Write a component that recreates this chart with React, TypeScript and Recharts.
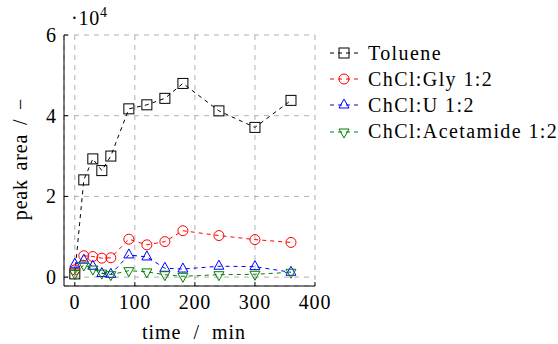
import React from 'react';
import { LineChart, Line, XAxis, YAxis, CartesianGrid, Customized } from 'recharts';

const times = [0, 15, 30, 45, 60, 90, 120, 150, 180, 240, 300, 360];
const toluene = [800, 24100, 29300, 26400, 30000, 41700, 42700, 44300, 48000, 41200, 37100, 43800];
const gly = [1800, 5300, 5100, 4700, 4800, 9400, 8000, 8800, 11500, 10300, 9300, 8600];
const urea = [3200, 4200, 2700, 900, 700, 5500, 5000, 2200, 2000, 2700, 2600, 1200];
const acetamide = [900, 3000, 2000, 1000, 600, 1600, 1300, 600, 200, 600, 700, 1200];

const xTicks = [0, 100, 200, 300, 400];
const yTicks = [0, 20000, 40000, 60000];
const xDomain = [-18, 400];
const yDomain = [-2200, 60000];

const seriesNames = ['Toluene', 'ChCl:Gly 1:2', 'ChCl:U 1:2', 'ChCl:Acetamide 1:2'];
const seriesKeys = ['toluene', 'gly', 'urea', 'acetamide'];
const seriesColors = ['#000000', '#ff0000', '#0000ff', '#008000'];
const seriesMarkers = ['square', 'circle', 'triangle', 'triangleDown'];

const data = times.map((t, i) => ({
  t,
  toluene: toluene[i],
  gly: gly[i],
  urea: urea[i],
  acetamide: acetamide[i],
}));

const FONT = "'Times New Roman', 'Liberation Serif', Times";
const FS = 20;
const LS = 0.8;
const DASH = '4 4';

function Marker({ cx, cy, type, color }: any) {
  if (cx == null || cy == null) return null;
  const s = 5;
  if (type === 'square')
    return <rect x={cx - s} y={cy - s} width={2 * s} height={2 * s} fill="none" stroke={color} strokeWidth={1} />;
  if (type === 'circle') return <circle cx={cx} cy={cy} r={s} fill="none" stroke={color} strokeWidth={1} />;
  if (type === 'triangle')
    return (
      <polygon
        points={`${cx},${cy - s - 1} ${cx - s},${cy + s - 2} ${cx + s},${cy + s - 2}`}
        fill="none"
        stroke={color}
        strokeWidth={1}
      />
    );
  return (
    <polygon
      points={`${cx},${cy + s + 1} ${cx - s},${cy - s + 2} ${cx + s},${cy - s + 2}`}
      fill="none"
      stroke={color}
      strokeWidth={1}
    />
  );
}

const XTickBottom = (props: any) => {
  const { x, y, payload } = props;
  return (
    <g>
      <line x1={x} y1={y} x2={x} y2={y - 4} stroke="#000" strokeWidth={1} />
      <text x={x} y={y + 16} textAnchor="middle" dominantBaseline="central" style={{ fontFamily: FONT, fontSize: FS, letterSpacing: LS }} fill="#000">
        {payload.value}
      </text>
    </g>
  );
};
const XTickTop = (props: any) => {
  const { x, y } = props;
  return <line x1={x} y1={y} x2={x} y2={y + 4} stroke="#000" strokeWidth={1} />;
};
const YTickLeft = (props: any) => {
  const { x, y, payload } = props;
  return (
    <g>
      <line x1={x} y1={y} x2={x + 4} y2={y} stroke="#000" strokeWidth={1} />
      <text x={x - 8} y={y} textAnchor="end" dominantBaseline="central" style={{ fontFamily: FONT, fontSize: FS }} fill="#000">
        {payload.value / 10000}
      </text>
    </g>
  );
};
const YTickRight = (props: any) => {
  const { x, y } = props;
  return <line x1={x} y1={y} x2={x - 4} y2={y} stroke="#000" strokeWidth={1} />;
};

const Labels = () => (
  <g fill="#000" style={{ fontFamily: FONT }}>
    <text x={71} y={25} style={{ fontFamily: FONT, fontSize: FS, letterSpacing: LS }}>
      ·10
      <tspan style={{ fontSize: 14 }} dy={-8}>4</tspan>
    </text>
    <text x={194} y={332} textAnchor="middle" dominantBaseline="central" style={{ fontFamily: FONT, fontSize: FS, letterSpacing: 1, wordSpacing: 6 }}>
      time / min
    </text>
    <text
      x={20}
      y={159}
      textAnchor="middle"
      dominantBaseline="central"
      style={{ fontFamily: FONT, fontSize: FS, letterSpacing: LS, wordSpacing: 3 }}
      transform="rotate(-90 20 159)"
    >
      peak area / −
    </text>
  </g>
);

function LegendBox() {
  return (
    <div style={{ position: 'absolute', left: 328, top: 40, fontFamily: FONT, fontSize: FS, letterSpacing: 1.4 }}>
      {seriesNames.map((name, i) => (
        <div key={name} style={{ display: 'flex', alignItems: 'center', height: 26.2 }}>
          <svg width={32} height={14} style={{ display: 'block' }}>
            <line x1={2} y1={7} x2={30} y2={7} stroke={seriesColors[i]} strokeWidth={1} strokeDasharray={DASH} />
            <Marker cx={16} cy={7} type={seriesMarkers[i]} color={seriesColors[i]} />
          </svg>
          <span style={{ marginLeft: 8, whiteSpace: 'nowrap', color: '#000' }}>{name}</span>
        </div>
      ))}
    </div>
  );
}

export default function App() {
  return (
    <div style={{ position: 'absolute', left: 0, top: 0, width: 558, height: 344, background: '#fff', fontFamily: FONT }}>
      <LineChart width={558} height={344} data={data} margin={{ top: 35, right: 243, left: 0, bottom: 0 }} style={{ fontFamily: FONT }}>
        <CartesianGrid stroke="#b0b0b0" strokeDasharray="5 5" />
        <XAxis
          dataKey="t"
          type="number"
          domain={xDomain}
          ticks={xTicks}
          allowDataOverflow
          height={58}
          tickSize={0}
          tickMargin={0}
          tickLine={false}
          axisLine={{ stroke: '#000' }}
          tick={<XTickBottom />}
          interval={0}
        />
        <XAxis
          xAxisId="top"
          orientation="top"
          dataKey="t"
          type="number"
          domain={xDomain}
          ticks={xTicks.slice(0, 4)}
          allowDataOverflow
          height={0}
          tickSize={0}
          tickMargin={0}
          tickLine={false}
          axisLine={{ stroke: '#000' }}
          tick={<XTickTop />}
          interval={0}
        />
        <YAxis
          type="number"
          domain={yDomain}
          ticks={yTicks}
          allowDataOverflow
          width={64}
          tickSize={0}
          tickMargin={0}
          tickLine={false}
          axisLine={{ stroke: '#000' }}
          tick={<YTickLeft />}
          interval={0}
        />
        <YAxis
          yAxisId="right"
          orientation="right"
          type="number"
          domain={yDomain}
          ticks={yTicks.slice(0, 3)}
          allowDataOverflow
          width={0}
          tickSize={0}
          tickMargin={0}
          tickLine={false}
          axisLine={{ stroke: '#000' }}
          tick={<YTickRight />}
          interval={0}
        />
        {seriesKeys.map((k, i) => (
          <Line
            key={k}
            dataKey={k}
            name={seriesNames[i]}
            stroke={seriesColors[i]}
            strokeWidth={1}
            strokeDasharray={DASH}
            isAnimationActive={false}
            dot={(p: any) => <Marker key={`${k}-${p.index}`} cx={p.cx} cy={p.cy} type={seriesMarkers[i]} color={seriesColors[i]} />}
            activeDot={false}
          />
        ))}
        <Customized component={Labels} />
      </LineChart>
      <LegendBox />
    </div>
  );
}
